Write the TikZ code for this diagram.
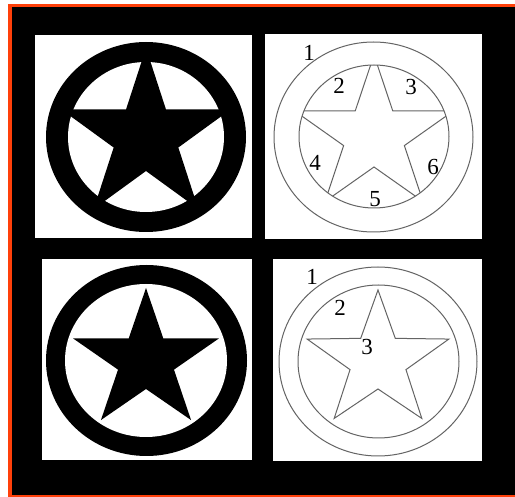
\documentclass[tikz,border=0pt]{standalone}
\usepackage{fontspec}
\setmainfont{Liberation Serif}
\definecolor{frameorange}{RGB}{255,64,10}
\definecolor{linegray}{RGB}{100,100,100}
\tikzset{
  panel/.style={fill=white, draw=none},
  thinline/.style={draw=linegray, line width=1pt},
  numlabel/.style={font=\fontsize{23}{23}\selectfont, inner sep=0pt, text=black}
}
\begin{document}
\begin{tikzpicture}[x=1pt, y=-1pt]
\useasboundingbox (0,0) rectangle (515,497);
\fill[white] (0,0) rectangle (515,497);
% frame
\fill[frameorange] (8.3,4) rectangle (520,497);
\fill[black] (11.7,7.3) rectangle (520,494.6);
% panels
\fill[panel] (35,35) rectangle (252,238);
\fill[panel] (265,34) rectangle (482,239);
\fill[panel] (42,259) rectangle (252,460);
\fill[panel] (273,259) rectangle (482,461);

% ---- top-left: black ring + star merged with ring
\fill[black] (146,137) ellipse [x radius=100, y radius=95];
\fill[white] (146,137) ellipse [x radius=78, y radius=75];
\begin{scope}
  \clip (146,137) ellipse [x radius=99, y radius=94];
  \fill[black] plot[samples at={0,...,9}, variable=\k]
    ({146+(34+55*(1-mod(\k,2)))*cos(90+36*\k)}, {137-(34+55*(1-mod(\k,2)))*sin(90+36*\k)}) -- cycle;
\end{scope}

% ---- top-right: outline version with six regions
\draw[thinline] (373.5,137) ellipse [x radius=99.5, y radius=95];
\draw[thinline] (374,136.5) ellipse [x radius=75, y radius=71.5];
\begin{scope}
  \clip (374,136.5) ellipse [x radius=75, y radius=71.5];
  \draw[thinline] plot[samples at={0,...,9}, variable=\k]
    ({374+1.03*(31+50*(1-mod(\k,2)))*cos(90+36*\k)}, {136-(31+50*(1-mod(\k,2)))*sin(90+36*\k)}) -- cycle;
\end{scope}
\node[numlabel] (tr1) at (309,53) {1};
\node[numlabel] (tr2) at (339,86) {2};
\node[numlabel] (tr3) at (411,87) {3};
\node[numlabel] (tr4) at (315,163) {4};
\node[numlabel] (tr5) at (375,199) {5};
\node[numlabel] (tr6) at (433,167) {6};

% ---- bottom-left: black ring + free star
\fill[black] (146.5,360.5) ellipse [x radius=100.5, y radius=95.5];
\fill[white] (146,360.5) ellipse [x radius=81, y radius=76.5];
\fill[black] plot[samples at={0,...,9}, variable=\k]
  ({146+1.05*(28+45*(1-mod(\k,2)))*cos(90+36*\k)}, {361-(28+45*(1-mod(\k,2)))*sin(90+36*\k)}) -- cycle;

% ---- bottom-right: outline version with three regions
\draw[thinline] (378,361.5) ellipse [x radius=99, y radius=94.5];
\draw[thinline] (378.5,361.5) ellipse [x radius=80.5, y radius=76.5];
\draw[thinline] plot[samples at={0,...,9}, variable=\k]
  ({378+1.05*(28+43*(1-mod(\k,2)))*cos(90+36*\k)}, {361-(28+43*(1-mod(\k,2)))*sin(90+36*\k)}) -- cycle;
\node[numlabel] (br1) at (312,277) {1};
\node[numlabel] (br2) at (340,308) {2};
\node[numlabel] (br3) at (367,347) {3};
\end{tikzpicture}
\end{document}
